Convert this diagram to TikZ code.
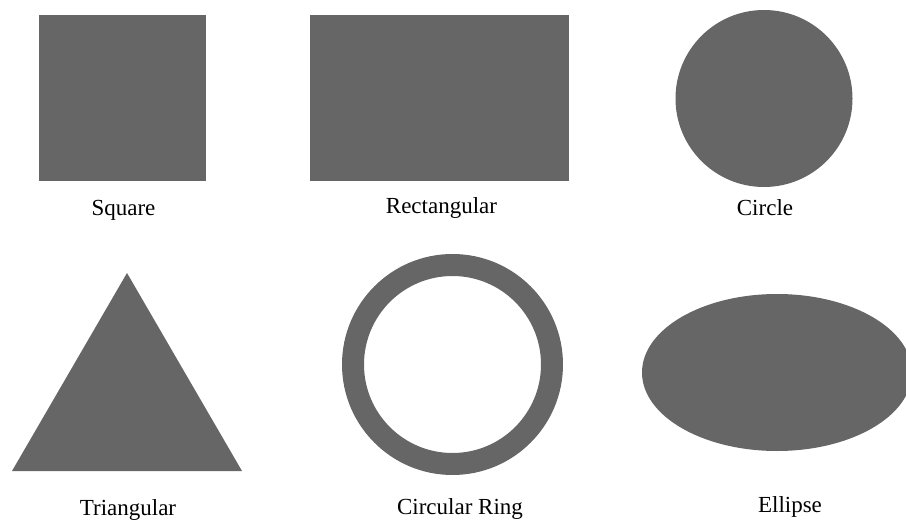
\documentclass[tikz,border=0pt]{standalone}
\usepackage{fontspec}
\setmainfont{Liberation Serif}
\usepackage{tikz}
\definecolor{shapegray}{HTML}{666666}

\begin{document}
\begin{tikzpicture}[x=1pt, y=-1pt, shapefill/.style={fill=shapegray},
  shapelabel/.style={anchor=base, inner sep=0pt, font=\fontsize{23}{27}\selectfont}]
\useasboundingbox (0,0) rectangle (906,522);
\clip (0,0) rectangle (906,522);

\fill[shapefill] (39,15) rectangle (206,181);
\fill[shapefill] (310,15) rectangle (569,181);
\fill[shapefill] (764,98.5) circle (88.5pt);
\fill[shapefill] (127,273) -- (242,471) -- (12,471) -- cycle;
\fill[shapefill, even odd rule] (452.5,364.5) circle (110.5pt) circle (88.5pt);
\fill[shapefill] (777,372.5) ellipse [x radius=135pt, y radius=78.5pt];

\node[shapelabel] (square) at (123.5,215) {Square};
\node[shapelabel] (rect) at (441.5,213) {Rectangular};
\node[shapelabel] (circ) at (765,215) {Circle};
\node[shapelabel] (tri) at (128,515) {Triangular};
\node[shapelabel] (ring) at (460,514) {Circular Ring};
\node[shapelabel] (ell) at (790,512) {Ellipse};
\end{tikzpicture}
\end{document}
